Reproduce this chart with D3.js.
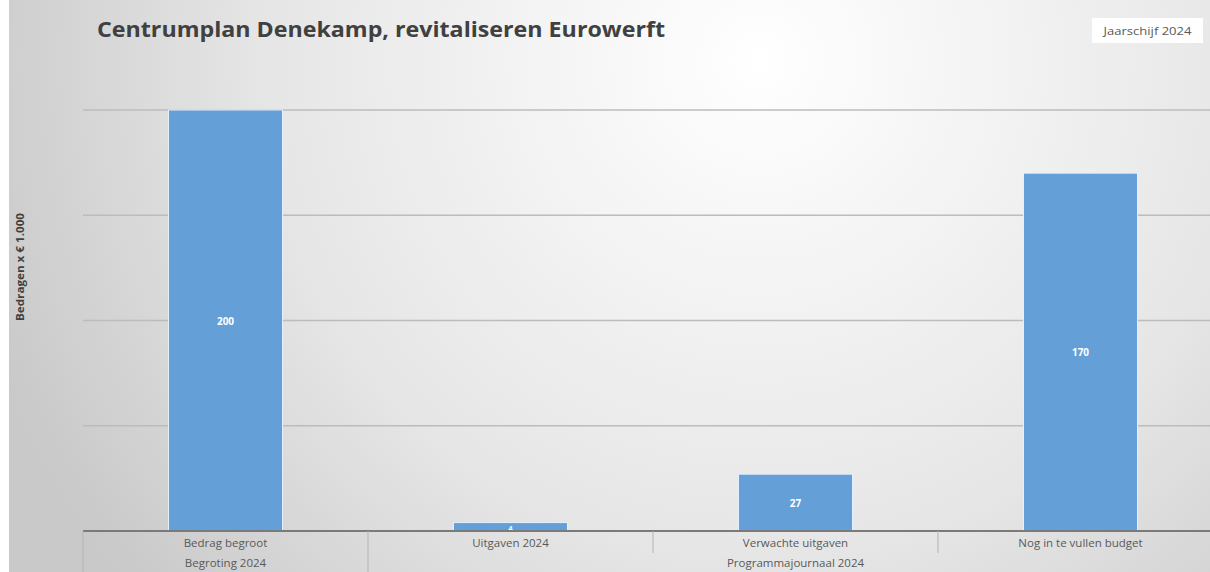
<!DOCTYPE html>
<html><head><meta charset="utf-8">
<script src="https://cdn.jsdelivr.net/npm/d3@7/dist/d3.min.js"></script>
<style>html,body{margin:0;padding:0;background:#fff;}svg{display:block;}</style>
</head><body>
<script>
const categories = ["Bedrag begroot", "Uitgaven 2024", "Verwachte uitgaven", "Nog in te vullen budget"];
const groups = ["Begroting 2024", "Programmajournaal 2024"];
const groupOf = [0, 1, 1, 1];
const values = [200, 4, 27, 170];
const labels = ["200", "4", "27", "170"];
const yTicks = [0, 50, 100, 150, 200];
const title = "Centrumplan Denekamp, revitaliseren Eurowerft";
const badge = "Jaarschijf 2024";
const yTitle = "Bedragen x € 1.000";

const W = 1210, H = 572;
const svg = d3.select("body").append("svg").attr("width", W).attr("height", H);
const defs = svg.append("defs");
const rg = defs.append("radialGradient").attr("id", "bg")
  .attr("gradientUnits", "userSpaceOnUse").attr("cx", 760).attr("cy", 60).attr("r", 820)
  .attr("fx", 760).attr("fy", 60);
rg.append("stop").attr("offset", "0%").attr("stop-color", "#ffffff");
rg.append("stop").attr("offset", "60%").attr("stop-color", "#e6e6e6");
rg.append("stop").attr("offset", "100%").attr("stop-color", "#c9c9c9");
svg.append("rect").attr("x", 9).attr("y", 0).attr("width", W - 9).attr("height", H).attr("fill", "url(#bg)");

const x0 = 83, step = 285;
const x = d3.scaleBand().domain(categories).range([x0, x0 + step * categories.length]).paddingInner(0.6).paddingOuter(0.3);
const xb = d3.scaleBand().domain(categories).range([x0, x0 + step * categories.length]).padding(0);
const y = d3.scaleLinear().domain([0, 200]).range([531, 110]);

// gridlines
svg.append("g").selectAll("line").data(yTicks.filter(d => d > 0)).join("line")
  .attr("x1", x0).attr("x2", W).attr("y1", d => y(d)).attr("y2", d => y(d))
  .attr("stroke", "#bcbcbc").attr("stroke-width", 1.3);

// bars
svg.append("g").selectAll("rect").data(values).join("rect")
  .attr("x", (d, i) => x(categories[i])).attr("width", x.bandwidth())
  .attr("y", d => y(d)).attr("height", d => y(0) - y(d))
  .attr("fill", "#659fd7").attr("stroke", "#e4f0fb").attr("stroke-width", 1);

// value labels
svg.append("g").selectAll("text").data(values).join("text")
  .attr("x", (d, i) => x(categories[i]) + x.bandwidth() / 2)
  .attr("y", d => (y(d) + y(0)) / 2 + 4)
  .attr("text-anchor", "middle").attr("fill", "#ffffff")
  .attr("font-family", "Open Sans, sans-serif").attr("font-weight", "bold")
  .attr("font-size", d => d < 10 ? 7 : 10)
  .text((d, i) => labels[i]);

// x axis line
svg.append("line").attr("x1", x0).attr("x2", W).attr("y1", y(0)).attr("y2", y(0))
  .attr("stroke", "#7a7a7a").attr("stroke-width", 2);

// separators
const seps = d3.range(categories.length).map(i => {
  const xx = xb(categories[i]);
  const full = i === 0 || groupOf[i] !== groupOf[i - 1];
  return { x: xx, full };
});
svg.append("g").selectAll("line").data(seps).join("line")
  .attr("x1", d => d.x).attr("x2", d => d.x)
  .attr("y1", y(0)).attr("y2", d => d.full ? H : 553)
  .attr("stroke", "#b3b3b3").attr("stroke-width", 1);

// category labels
svg.append("g").selectAll("text").data(categories).join("text")
  .attr("x", d => xb(d) + xb.bandwidth() / 2).attr("y", 547)
  .attr("text-anchor", "middle").attr("fill", "#595959")
  .attr("font-family", "Open Sans, sans-serif").attr("font-size", 11.5)
  .text(d => d);

// group labels
svg.append("g").selectAll("text").data(groups).join("text")
  .attr("x", (g, gi) => {
    const cs = categories.filter((c, i) => groupOf[i] === gi);
    return (xb(cs[0]) + xb(cs[cs.length - 1]) + xb.bandwidth()) / 2;
  })
  .attr("y", 567).attr("text-anchor", "middle").attr("fill", "#595959")
  .attr("font-family", "Open Sans, sans-serif").attr("font-size", 11.5)
  .text(d => d);

// title
svg.append("text").attr("x", 97).attr("y", 37)
  .attr("fill", "#404040").attr("font-family", "Open Sans, sans-serif")
  .attr("font-weight", "bold").attr("font-size", 22).attr("textLength", 568)
  .attr("lengthAdjust", "spacingAndGlyphs").text(title);

// badge
svg.append("rect").attr("x", 1092).attr("y", 18).attr("width", 111).attr("height", 25).attr("fill", "#ffffff");
svg.append("text").attr("x", 1147.5).attr("y", 35).attr("text-anchor", "middle")
  .attr("fill", "#595959").attr("font-family", "Open Sans, sans-serif").attr("font-size", 11)
  .attr("textLength", 88).attr("lengthAdjust", "spacingAndGlyphs")
  .text(badge);

// y title
svg.append("text").attr("transform", "translate(24,267) rotate(-90)")
  .attr("text-anchor", "middle").attr("fill", "#404040")
  .attr("font-family", "Open Sans, sans-serif").attr("font-weight", "bold").attr("font-size", 10)
  .attr("textLength", 108).attr("lengthAdjust", "spacingAndGlyphs")
  .text(yTitle);
</script>
</body></html>
